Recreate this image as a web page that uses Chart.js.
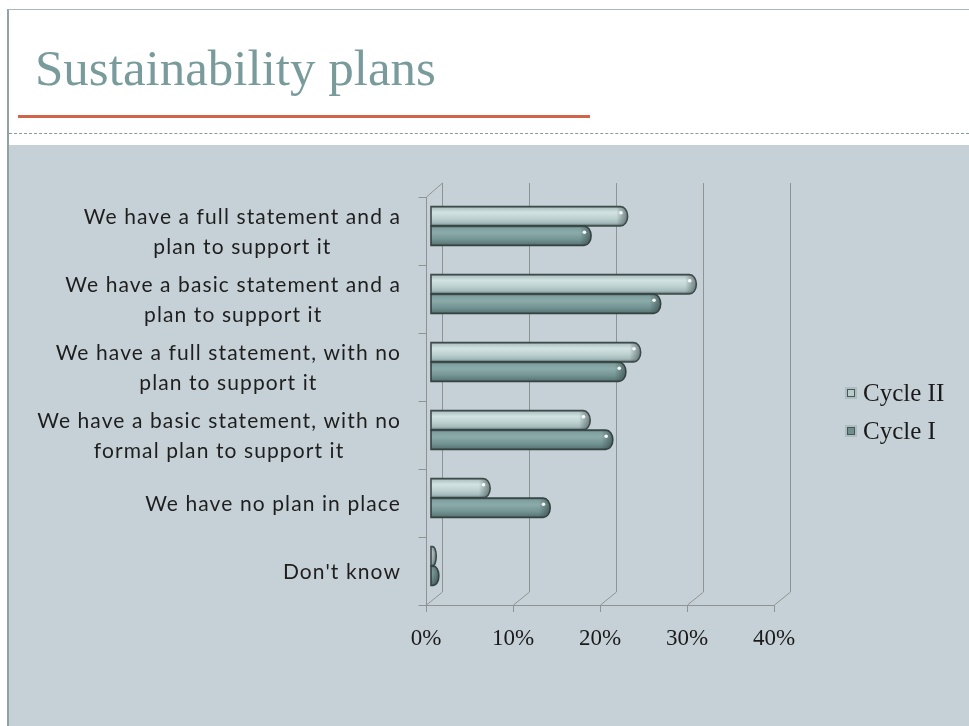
<!DOCTYPE html>
<html>
<head>
<meta charset="utf-8">
<title>Sustainability plans</title>
<script src="https://cdn.jsdelivr.net/npm/chart.js@4"></script>
<style>
  html, body { margin: 0; padding: 0; width: 969px; height: 726px; overflow: hidden; background: #fff; position: relative; }
  #frame { position: absolute; left: 7px; top: 9px; right: 0; bottom: 0; border-left: 2px solid #8fa3a4; border-top: 1px solid #a9b8b9; }
  #title { position: absolute; left: 35px; top: 43px; font-family: "Liberation Serif", serif; font-size: 51px; line-height: 50px; color: #7a9b9b; white-space: nowrap; }
  #rule { position: absolute; left: 18px; top: 115px; width: 572px; height: 3px; background: #d2644a; }
  #dash { position: absolute; left: 9px; right: 0; top: 133px; border-top: 1px dashed #8a9a9b; }
  #panel { position: absolute; left: 9px; right: 0; top: 145px; bottom: 0; background: #c6d1d7; }
  #chart { position: absolute; left: 0; top: 0; }
</style>
</head>
<body>
<div id="frame"></div>
<div id="title">Sustainability plans</div>
<div id="rule"></div>
<div id="dash"></div>
<div id="panel"></div>
<canvas id="chart" width="969" height="726"></canvas>
<script>
const categories = [
    ['We have a full statement and a', 'plan to support it'],
    ['We have a basic statement and a', 'plan to support it'],
    ['We have a full statement, with no', 'plan to support it'],
    ['We have a basic statement, with no', 'formal plan to support it'],
    ['We have no plan in place'],
    ["Don't know"]
];
const cycle2 = [22.6, 30.5, 24.1, 18.3, 6.8, 0.6];
const cycle1 = [18.4, 26.4, 22.4, 20.9, 13.7, 0.9];
const xTicks = [0, 10, 20, 30, 40];

// offsets of the front and back planes from the plane the bars sit in
const FRONT = { dx: -5, dy: 5 };
const BACK = { dx: 11, dy: -8 };
const GRID = '#8e9494';

const tubeLight = {
    stops: [[0, '#4b5959'], [0.1, '#b4c8c8'], [0.3, '#d2e2e2'], [0.6, '#bfd2d2'], [0.86, '#a2b9b9'], [1, '#4f5e5e']],
    edge: '#3e4a4a',
    legend: '#b9cccc'
};
const tubeDark = {
    stops: [[0, '#3c4b4b'], [0.1, '#7f9e9e'], [0.35, '#8babab'], [0.7, '#739292'], [0.9, '#5e7c7c'], [1, '#394747']],
    edge: '#354242',
    legend: '#6f8f8f'
};

function drawTube(ctx, x0, x1, yc, h, pal) {
    const top = yc - h / 2, bot = yc + h / 2;
    const len = Math.max(x1 - x0, 3);
    const r = Math.min(7, len * 0.7);
    const xe = x0 + len;

    ctx.save();
    ctx.beginPath();
    ctx.moveTo(x0, top);
    ctx.lineTo(xe - r, top);
    ctx.ellipse(xe - r, yc, r, h / 2, 0, -Math.PI / 2, Math.PI / 2);
    ctx.lineTo(x0, bot);
    ctx.closePath();

    const g = ctx.createLinearGradient(0, top, 0, bot);
    pal.stops.forEach(s => g.addColorStop(s[0], s[1]));
    ctx.fillStyle = g;
    ctx.fill();

    // darker rim on the rounded end
    ctx.save();
    ctx.clip();
    const rim = ctx.createLinearGradient(xe - r * 1.6, 0, xe, 0);
    rim.addColorStop(0, 'rgba(40,55,55,0)');
    rim.addColorStop(1, 'rgba(40,55,55,0.55)');
    ctx.fillStyle = rim;
    ctx.fillRect(xe - r * 1.6, top, r * 1.6, h);
    ctx.restore();

    ctx.strokeStyle = pal.edge;
    ctx.lineWidth = 1.6;
    ctx.stroke();

    // specular dot
    if (len > 8) {
        ctx.fillStyle = 'rgba(255,255,255,0.95)';
        ctx.beginPath();
        ctx.arc(xe - r * 0.95, top + h * 0.32, 1.8, 0, Math.PI * 2);
        ctx.fill();
    }
    ctx.restore();
}

const box3d = {
    id: 'box3d',
    beforeDatasetsDraw(chart) {
        const ctx = chart.ctx;
        const xs = chart.scales.x, ys = chart.scales.y;
        const top = ys.top, bottom = ys.bottom;
        ctx.save();
        ctx.strokeStyle = GRID;
        ctx.lineWidth = 1;

        xTicks.forEach(v => {
            const px = xs.getPixelForValue(v);
            const bx = Math.round(px + BACK.dx) + 0.5;
            const fx = Math.round(px + FRONT.dx) + 0.5;
            ctx.beginPath();
            ctx.moveTo(bx, top + BACK.dy - 1);
            ctx.lineTo(bx, bottom + BACK.dy);
            ctx.lineTo(fx, bottom + FRONT.dy);
            ctx.stroke();
            // tick mark under the front floor edge
            ctx.beginPath();
            ctx.moveTo(fx, bottom + FRONT.dy);
            ctx.lineTo(fx, bottom + FRONT.dy + 7);
            ctx.stroke();
        });

        const x0 = xs.getPixelForValue(0);
        const x4 = xs.getPixelForValue(xTicks[xTicks.length - 1]);
        const fx0 = Math.round(x0 + FRONT.dx) + 0.5;
        const bx0 = Math.round(x0 + BACK.dx) + 0.5;
        const fy = Math.round(bottom + FRONT.dy) + 0.5;

        // front floor edge
        ctx.beginPath();
        ctx.moveTo(fx0, fy);
        ctx.lineTo(x4 + FRONT.dx, fy);
        ctx.stroke();

        // left wall: front edge and top edge
        ctx.beginPath();
        ctx.moveTo(fx0, bottom + FRONT.dy);
        ctx.lineTo(fx0, top + FRONT.dy);
        ctx.lineTo(bx0, top + BACK.dy - 1);
        ctx.stroke();

        // category ticks on the left wall
        const n = categories.length;
        for (let i = 0; i <= n; i++) {
            const y = Math.round(top + (bottom - top) * i / n + FRONT.dy) + 0.5;
            ctx.beginPath();
            ctx.moveTo(fx0 - 8, y);
            ctx.lineTo(fx0, y);
            ctx.stroke();
        }
        ctx.restore();
    },
    afterDatasetsDraw(chart) {
        const ctx = chart.ctx;
        chart.data.datasets.forEach((ds, di) => {
            const meta = chart.getDatasetMeta(di);
            meta.data.forEach(el => {
                const p = el.getProps(['x', 'y', 'base', 'height'], true);
                drawTube(ctx, p.base, p.x, p.y, p.height, ds.tube);
            });
        });
    },
    afterDraw(chart) {
        const ctx = chart.ctx;
        const ys = chart.scales.y;
        const xs = chart.scales.x;
        const right = xs.getPixelForValue(0) - 30;

        // category labels, lines centred within each block
        ctx.save();
        ctx.font = '21px Lato';
        ctx.letterSpacing = '1.1px';
        ctx.fillStyle = '#1e1e1e';
        ctx.textAlign = 'center';
        ctx.textBaseline = 'middle';
        chart.data.labels.forEach((lines, i) => {
            const yc = ys.getPixelForValue(i) + FRONT.dy + 1;
            const w = Math.max(...lines.map(l => ctx.measureText(l).width));
            const cx = right - w / 2;
            lines.forEach((l, j) => {
                ctx.fillText(l, cx, yc + (j - (lines.length - 1) / 2) * 30);
            });
        });
        ctx.letterSpacing = '0px';

        // legend
        const lx = xs.right + 67;
        const midY = (ys.top + ys.bottom) / 2 + 16;
        ctx.font = '25px "Liberation Serif"';
        ctx.textAlign = 'left';
        chart.data.datasets.forEach((ds, i) => {
            const y = Math.round(midY + (i - 0.5) * 38);
            ctx.fillStyle = 'rgba(150,170,170,0.5)';
            ctx.fillRect(lx - 1, y - 6, 12, 12);
            ctx.fillStyle = ds.tube.legend;
            ctx.fillRect(lx + 1, y - 4, 8, 8);
            ctx.strokeStyle = '#4a5656';
            ctx.lineWidth = 1;
            ctx.strokeRect(lx + 1.5, y - 3.5, 7, 7);
            ctx.fillStyle = '#1a1a1a';
            ctx.fillText(ds.label, lx + 17, y + 1);
        });
        ctx.restore();
    }
};

new Chart(document.getElementById('chart'), {
    type: 'bar',
    data: {
        labels: categories,
        datasets: [
            {
                label: 'Cycle II',
                data: cycle2,
                tube: tubeLight,
                backgroundColor: 'rgba(0,0,0,0)',
                borderWidth: 0,
                categoryPercentage: 0.574,
                barPercentage: 1
            },
            {
                label: 'Cycle I',
                data: cycle1,
                tube: tubeDark,
                backgroundColor: 'rgba(0,0,0,0)',
                borderWidth: 0,
                categoryPercentage: 0.574,
                barPercentage: 1
            }
        ]
    },
    options: {
        indexAxis: 'y',
        responsive: false,
        animation: false,
        layout: { padding: { top: 192, right: 190, bottom: 66, left: 0 } },
        plugins: {
            legend: { display: false },
            tooltip: { enabled: false }
        },
        scales: {
            y: {
                ticks: { display: false },
                grid: { display: false },
                border: { display: false },
                afterFit: scale => { scale.width = 431; }
            },
            x: {
                min: 0,
                max: 40,
                ticks: {
                    stepSize: 10,
                    callback: v => v + '%',
                    font: { family: 'Liberation Serif', size: 23 },
                    color: '#1a1a1a',
                    padding: 17,
                    labelOffset: -5
                },
                grid: { display: false },
                border: { display: false },
                afterFit: scale => { scale.height = 60; }
            }
        }
    },
    plugins: [box3d]
});
</script>
</body>
</html>
